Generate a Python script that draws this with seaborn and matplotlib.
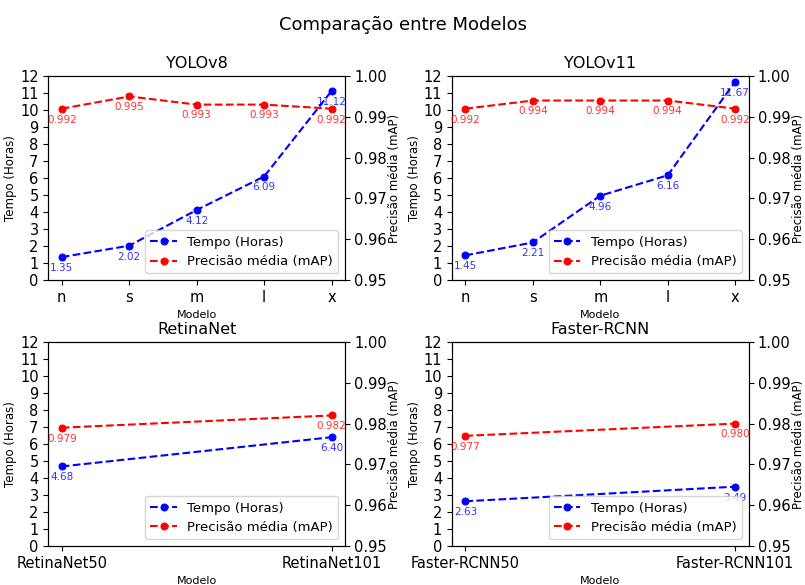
import numpy as np
import pandas as pd
import matplotlib
matplotlib.use("Agg")
import matplotlib.pyplot as plt
import seaborn as sns

# dados
yolov8_modelos = ["n", "s", "m", "l", "x"]
yolov8_tempo = [1.35, 2.02, 4.12, 6.09, 11.12]
yolov8_map = [0.992, 0.995, 0.993, 0.993, 0.992]

yolov11_modelos = ["n", "s", "m", "l", "x"]
yolov11_tempo = [1.45, 2.21, 4.96, 6.16, 11.67]
yolov11_map = [0.992, 0.994, 0.994, 0.994, 0.992]

retina_modelos = ["RetinaNet50", "RetinaNet101"]
retina_tempo = [4.68, 6.40]
retina_map = [0.979, 0.982]

faster_modelos = ["Faster-RCNN50", "Faster-RCNN101"]
faster_tempo = [2.63, 3.49]
faster_map = [0.977, 0.980]

grupos = [
    ("YOLOv8", yolov8_modelos, yolov8_tempo, yolov8_map),
    ("YOLOv11", yolov11_modelos, yolov11_tempo, yolov11_map),
    ("RetinaNet", retina_modelos, retina_tempo, retina_map),
    ("Faster-RCNN", faster_modelos, faster_tempo, faster_map),
]

fig, axes = plt.subplots(2, 2, figsize=(8.05, 5.85), dpi=100)
fig.subplots_adjust(left=0.06, right=0.93, top=0.870, bottom=0.0667,
                    wspace=0.36, hspace=0.304)
fig.suptitle("Comparação entre Modelos", fontsize=13, y=0.972)

for ax, (titulo, modelos, tempo, mapv) in zip(axes.flat, grupos):
    df = pd.DataFrame({"pos": np.arange(len(modelos)), "tempo": tempo, "map": mapv})
    ax2 = ax.twinx()

    sns.lineplot(data=df, x="pos", y="tempo", ax=ax, color="blue", linestyle="--",
                 marker="o", markeredgecolor="blue", markersize=5,
                 label="Tempo (Horas)", legend=False)
    sns.lineplot(data=df, x="pos", y="map", ax=ax2, color="red", linestyle="--",
                 marker="o", markeredgecolor="red", markersize=5,
                 label="Precisão média (mAP)", legend=False)

    for x, y in zip(df["pos"], df["tempo"]):
        ax.annotate(f"{y:.2f}", (x, y), textcoords="offset points", xytext=(0, -10),
                    ha="center", fontsize=7.5, color="blue", alpha=0.8)
    for x, y in zip(df["pos"], df["map"]):
        ax2.annotate(f"{y:.3f}", (x, y), textcoords="offset points", xytext=(0, -10),
                     ha="center", fontsize=7.5, color="red", alpha=0.8)

    ax.set_ylim(0, 12)
    ax.set_yticks(range(0, 13))
    ax2.set_ylim(0.95, 1.00)
    ax2.set_yticks([0.95, 0.96, 0.97, 0.98, 0.99, 1.00])
    ax.set_xticks(df["pos"])
    ax.set_xticklabels(modelos)
    ax.tick_params(labelsize=10.5)
    ax2.tick_params(labelsize=10.5, pad=3)

    ax.set_title(titulo, fontsize=11.5)
    ax.set_xlabel("Modelo", fontsize=8)
    ax.set_ylabel("Tempo (Horas)", fontsize=8.5, labelpad=2)
    ax2.set_ylabel("Precisão média (mAP)", fontsize=8.5, labelpad=1)

    h1, l1 = ax.get_legend_handles_labels()
    h2, l2 = ax2.get_legend_handles_labels()
    ax2.legend(h1 + h2, l1 + l2, loc="lower right", fontsize=9.5)

plt.savefig("out.png", dpi=100)
